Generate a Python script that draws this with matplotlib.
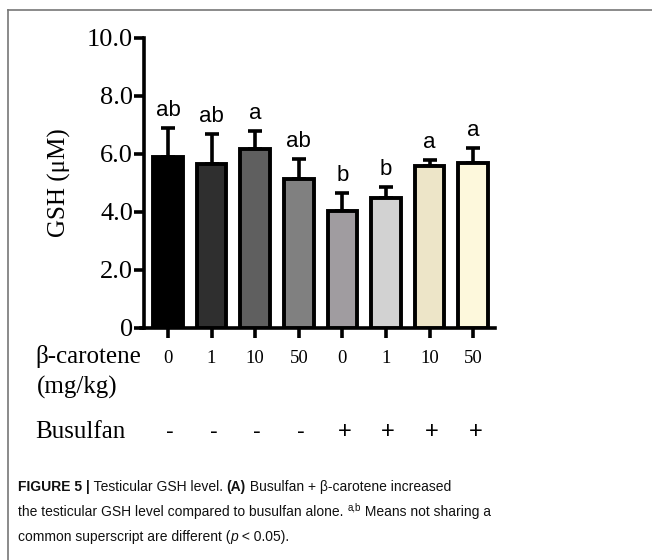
import matplotlib
matplotlib.use("Agg")
import matplotlib.pyplot as plt
import matplotlib.transforms as mtransforms
from matplotlib.lines import Line2D

# ---- data ----
doses = ["0", "1", "10", "50", "0", "1", "10", "50"]
busulfan = ["-", "-", "-", "-", "+", "+", "+", "+"]
gsh_mean = [5.88, 5.67, 6.17, 5.15, 4.05, 4.50, 5.57, 5.70]
gsh_sd = [1.02, 1.02, 0.63, 0.68, 0.60, 0.36, 0.23, 0.49]
letters = ["ab", "ab", "a", "ab", "b", "b", "a", "a"]
bar_colors = ["#000000", "#2f2f2f", "#5f5f5f", "#808080",
              "#a09ca0", "#d2d2d2", "#ede5c8", "#fdf8dc"]
yticks = [0, 2, 4, 6, 8, 10]
yticklabels = ["0", "2.0", "4.0", "6.0", "8.0", "10.0"]

W, H = 652, 560
fig = plt.figure(figsize=(W / 100, H / 100), dpi=100)

def fx(px):
    return px / W

def fy(py):
    return 1 - py / H

serif = ["Liberation Serif", "DejaVu Serif"]
sans = ["Liberation Sans", "DejaVu Sans"]

# border lines
fig.add_artist(Line2D([fx(8), fx(8)], [fy(10), fy(560)], color="#777777", lw=1.2,
                      transform=fig.transFigure))
fig.add_artist(Line2D([fx(8), fx(652)], [fy(10), fy(10)], color="#777777", lw=1.2,
                      transform=fig.transFigure))

ax_l, ax_r = 144, 495
ax = fig.add_axes([fx(ax_l), fy(328), fx(ax_r) - fx(ax_l), fy(38) - fy(328)])
x = list(range(len(gsh_mean)))
ax.bar(x, gsh_mean, width=0.68, color=bar_colors, edgecolor="black", linewidth=2.8, zorder=3)
ax.errorbar(x, gsh_mean, yerr=[[0] * len(gsh_sd), gsh_sd], fmt="none", ecolor="black",
            elinewidth=2.6, capsize=5, capthick=2.6, zorder=2)
for xi, m, s, lab in zip(x, gsh_mean, gsh_sd, letters):
    ax.text(xi, m + s + 0.42, lab, ha="center", va="baseline", fontsize=16,
            family=sans, color="black")

ax.set_xlim(-0.55, 7.5)
ax.set_ylim(0, 10)
for sp in ["top", "right"]:
    ax.spines[sp].set_visible(False)
for sp in ["left", "bottom"]:
    ax.spines[sp].set_linewidth(2.6)
ax.spines["bottom"].set_bounds(-0.62, 7.5)
ax.set_yticks(yticks)
ax.set_yticklabels(yticklabels, family=serif, fontsize=19)
ax.set_xticks(x)
ax.set_xticklabels(doses, family=serif, fontsize=13.5)
ax.tick_params(axis="y", length=7, width=2.6, pad=1)
ax.tick_params(axis="x", length=7, width=2.6, pad=9)

ax.set_ylabel("GSH (μM)", family=serif, fontsize=18)
ax.yaxis.set_label_coords((71 - ax_l) / (ax_r - ax_l), 0.5)

# row labels
fig.text(fx(35), fy(357), "β-carotene", family=serif, fontsize=18, ha="left", va="center")
fig.text(fx(37), fy(387), "(mg/kg)", family=serif, fontsize=18, ha="left", va="center")
fig.text(fx(35), fy(432), "Busulfan", family=serif, fontsize=18, ha="left", va="center")
trans = mtransforms.blended_transform_factory(ax.transData, fig.transFigure)
for xi, b in zip(x, busulfan):
    ax.text(xi + 0.05, fy(432), b, family=sans, fontsize=17, ha="center", va="center",
            transform=trans, clip_on=False)

# caption with rich text
fig.canvas.draw()
renderer = fig.canvas.get_renderer()

def rich_line(x0, ybase, pieces, size=10):
    cur = x0
    for txt, kw in pieces:
        extra = dict(kw)
        dy = extra.pop("dy", 0)
        fs = extra.pop("size", size)
        t = fig.text(fx(cur), fy(ybase - dy), txt, fontsize=fs, family=sans,
                     ha="left", va="baseline", color="#111111", **extra)
        bb = t.get_window_extent(renderer)
        cur = cur + bb.width

rich_line(18, 491, [("FIGURE 5 |", dict(weight="bold")),
                    (" Testicular GSH level. ", {}),
                    ("(A)", dict(weight="bold")),
                    (" Busulfan + β-carotene increased", {})])
rich_line(18, 516, [("the testicular GSH level compared to busulfan alone. ", {}),
                    ("a,b", dict(size=7, dy=5)),
                    (" Means not sharing a", {})])
rich_line(18, 541, [("common superscript are different (", {}),
                    ("p", dict(style="italic")),
                    (" < 0.05).", {})])

fig.savefig("out.png", dpi=100)
